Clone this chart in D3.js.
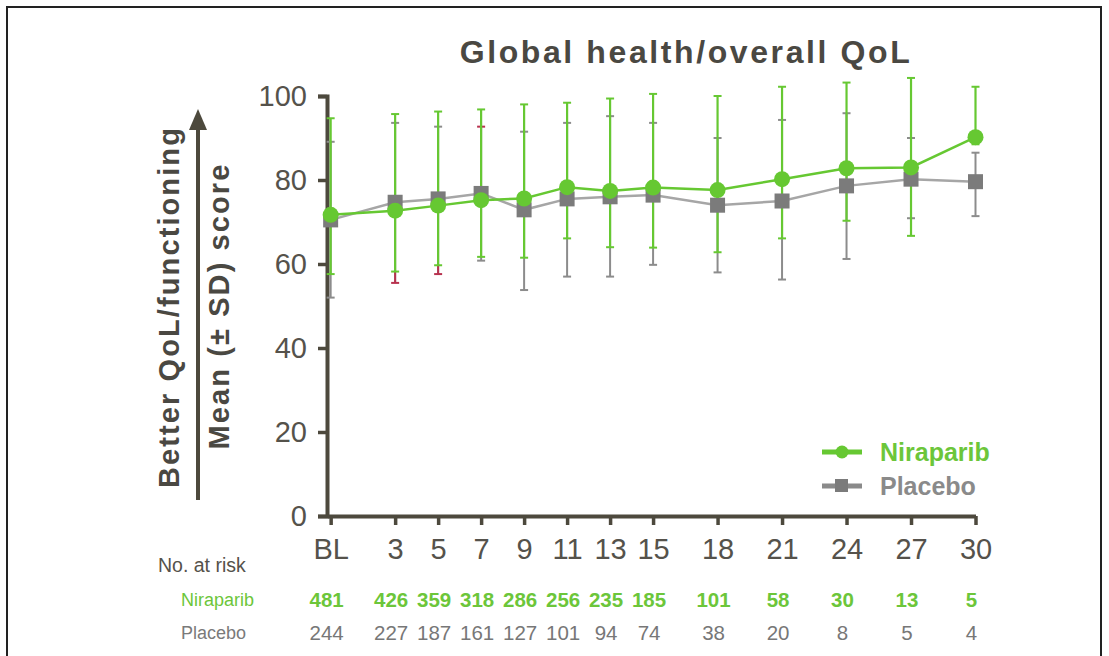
<!DOCTYPE html>
<html>
<head>
<meta charset="utf-8">
<script src="https://cdn.jsdelivr.net/npm/d3@7"></script>
<style>
  html, body { margin: 0; padding: 0; background: #fff; }
  svg { display: block; font-family: "Liberation Sans", Arial, sans-serif; }
</style>
</head>
<body>
<svg id="chart" width="1109" height="656"></svg>
<script>
// Visit months (BL = baseline) and their axis labels
const months = [0, 3, 5, 7, 9, 11, 13, 15, 18, 21, 24, 27, 30];
const monthLabels = ["BL", "3", "5", "7", "9", "11", "13", "15", "18", "21", "24", "27", "30"];

// Niraparib: mean score and the ends of the ± SD bars
const niraMean  = [71.7, 72.7, 73.9, 75.2, 75.6, 78.3, 77.4, 78.2, 77.6, 80.2, 82.8, 83.0, 90.2];
const niraUpper = [94.7, 95.7, 96.3, 96.8, 98.0, 98.4, 99.4, 100.5, 100.0, 102.2, 103.2, 104.3, 102.2];
const niraLower = [57.6, 58.2, 59.7, 61.7, 61.5, 66.1, 64.0, 63.9, 62.8, 66.1, 70.3, 66.7, 88.5];

// Placebo: mean score and the ends of the ± SD bars
const placMean  = [70.5, 74.7, 75.5, 76.8, 72.9, 75.5, 76.0, 76.4, 74.0, 75.0, 78.6, 80.2, 79.6];
const placUpper = [89.1, 93.6, 92.7, 92.7, 91.5, 93.6, 95.2, 93.6, 90.0, 94.3, 95.9, 90.0, 86.5];
const placLower = [52.0, 55.5, 57.6, 60.8, 53.8, 57.0, 57.0, 59.8, 58.0, 56.3, 61.2, 70.9, 71.4];

// Patients at risk per visit
const niraRisk = [481, 426, 359, 318, 286, 256, 235, 185, 101, 58, 30, 13, 5];
const placRisk = [244, 227, 187, 161, 127, 101, 94, 74, 38, 20, 8, 5, 4];

const yTicks = [0, 20, 40, 60, 80, 100];

// ---- styling ----
const GREEN = "#66c832";
const GREEN_TXT = "#6cc63a";
const GREY_MARK = "#7b7b7b";
const GREY_LINE = "#a6a6a6";
const GREY_BAR = "#8c8c8c";
const AXIS = "#4d493d";
const TEXT = "#55524b";
const ACCENT = "#b8324f";

const svg = d3.select("#chart");

// outer frame
svg.append("rect")
  .attr("x", 7).attr("y", 7).attr("width", 1094).attr("height", 660)
  .attr("fill", "none").attr("stroke", "#222").attr("stroke-width", 2);

const x = d3.scaleLinear().domain([-0.17, 30]).range([327, 975.5]);
const y = d3.scaleLinear().domain([0, 100]).range([516, 96]);

// title
svg.append("text")
  .attr("x", 686).attr("y", 63)
  .attr("text-anchor", "middle")
  .attr("font-size", 32).attr("font-weight", "bold")
  .attr("letter-spacing", 2.6)
  .attr("fill", "#4a4842")
  .text("Global health/overall QoL");

// y axis
const yAxis = svg.append("g")
  .attr("transform", `translate(${x.range()[0]},0)`)
  .call(d3.axisLeft(y).tickValues(yTicks).tickSize(9).tickPadding(11));
yAxis.select(".domain").attr("stroke", AXIS).attr("stroke-width", 4);
yAxis.selectAll(".tick line").attr("stroke", AXIS).attr("stroke-width", 3.5);
yAxis.selectAll(".tick text")
  .attr("font-size", 29).attr("fill", TEXT)
  .attr("font-family", "Liberation Sans, Arial, sans-serif");

// x axis
const xAxis = svg.append("g")
  .attr("transform", `translate(0,${y(0)})`)
  .call(d3.axisBottom(x).tickValues(months)
    .tickFormat((d, i) => monthLabels[i])
    .tickSize(9).tickSizeOuter(0).tickPadding(13));
xAxis.select(".domain").attr("stroke", AXIS).attr("stroke-width", 4);
xAxis.selectAll(".tick line").attr("stroke", AXIS).attr("stroke-width", 3.5);
xAxis.selectAll(".tick text")
  .attr("font-size", 29).attr("fill", TEXT)
  .attr("font-family", "Liberation Sans, Arial, sans-serif");

// y axis title with upward arrow
const yTitle = svg.append("g");
yTitle.append("text")
  .attr("transform", "translate(179,307) rotate(-90)")
  .attr("text-anchor", "middle")
  .attr("font-size", 29).attr("font-weight", "bold").attr("letter-spacing", 2.1)
  .attr("fill", "#4a4842")
  .text("Better QoL/functioning");
yTitle.append("text")
  .attr("transform", "translate(229,306) rotate(-90)")
  .attr("text-anchor", "middle")
  .attr("font-size", 29).attr("font-weight", "bold").attr("letter-spacing", 2.1)
  .attr("fill", "#4a4842")
  .text("Mean (± SD) score");
yTitle.append("line")
  .attr("x1", 198).attr("x2", 198).attr("y1", 500).attr("y2", 126)
  .attr("stroke", AXIS).attr("stroke-width", 4);
yTitle.append("path")
  .attr("d", "M198,109 L189,130 L207,130 Z")
  .attr("fill", AXIS);

// error bars
const cap = 4;
function drawBars(g, mean, upper, lower, color, width, accent) {
  months.forEach((m, i) => {
    const cx = x(m);
    const segs = [
      { y1: y(mean[i]), y2: y(upper[i]), side: "up" },
      { y1: y(mean[i]), y2: y(lower[i]), side: "low" }
    ];
    segs.forEach(s => {
      g.append("line")
        .attr("x1", cx).attr("x2", cx).attr("y1", s.y1).attr("y2", s.y2)
        .attr("stroke", color).attr("stroke-width", width);
      const capColor = accent && accent.has(i + s.side) ? ACCENT : color;
      g.append("line")
        .attr("x1", cx - cap).attr("x2", cx + cap).attr("y1", s.y2).attr("y2", s.y2)
        .attr("stroke", capColor).attr("stroke-width", 2);
    });
  });
}
const bars = svg.append("g");
// a few placebo whisker ends are printed in a crimson accent
const placeboAccent = new Set(["1low", "2low", "3up"]);
drawBars(bars, placMean, placUpper, placLower, GREY_BAR, 2, placeboAccent);
// crimson tails of placebo whiskers visible below the niraparib caps
[1, 2].forEach(i => {
  bars.append("line")
    .attr("x1", x(months[i])).attr("x2", x(months[i]))
    .attr("y1", y(niraLower[i])).attr("y2", y(placLower[i]))
    .attr("stroke", ACCENT).attr("stroke-width", 2);
});
drawBars(bars, niraMean, niraUpper, niraLower, GREEN, 2.2, null);

// lines
const line = (vals) => d3.line().x((d, i) => x(months[i])).y(d => y(d))(vals);
svg.append("path").attr("d", line(placMean))
  .attr("fill", "none").attr("stroke", GREY_LINE).attr("stroke-width", 2.5);
svg.append("path").attr("d", line(niraMean))
  .attr("fill", "none").attr("stroke", GREEN).attr("stroke-width", 2.5);

// markers
const sq = 15;
svg.append("g").selectAll("rect").data(placMean).join("rect")
  .attr("x", (d, i) => x(months[i]) - sq / 2)
  .attr("y", d => y(d) - sq / 2)
  .attr("width", sq).attr("height", sq)
  .attr("fill", GREY_MARK);
svg.append("g").selectAll("circle").data(niraMean).join("circle")
  .attr("cx", (d, i) => x(months[i]))
  .attr("cy", d => y(d))
  .attr("r", 8)
  .attr("fill", GREEN);

// legend
const legend = svg.append("g");
legend.append("line").attr("x1", 822).attr("x2", 862).attr("y1", 452).attr("y2", 452)
  .attr("stroke", GREEN).attr("stroke-width", 5);
legend.append("circle").attr("cx", 842).attr("cy", 452).attr("r", 6.5).attr("fill", GREEN);
legend.append("text").attr("x", 880).attr("y", 461)
  .attr("font-size", 25).attr("font-weight", "bold").attr("fill", GREEN_TXT)
  .text("Niraparib");
legend.append("line").attr("x1", 822).attr("x2", 862).attr("y1", 486).attr("y2", 486)
  .attr("stroke", "#8a8a8a").attr("stroke-width", 5);
legend.append("rect").attr("x", 835).attr("y", 479).attr("width", 13).attr("height", 13)
  .attr("fill", GREY_MARK);
legend.append("text").attr("x", 880).attr("y", 495)
  .attr("font-size", 25).attr("font-weight", "bold").attr("fill", "#8a8a8a")
  .text("Placebo");

// number at risk table
const risk = svg.append("g");
risk.append("text").attr("x", 158).attr("y", 572).attr("font-size", 19.5)
  .attr("fill", TEXT).text("No. at risk");
risk.append("text").attr("x", 181).attr("y", 606).attr("font-size", 18)
  .attr("fill", GREEN_TXT).text("Niraparib");
risk.append("text").attr("x", 181).attr("y", 639).attr("font-size", 18)
  .attr("fill", "#7a7a7a").text("Placebo");
risk.append("g").selectAll("text").data(niraRisk).join("text")
  .attr("x", (d, i) => x(months[i]) - 4).attr("y", 607)
  .attr("text-anchor", "middle").attr("font-size", 20.5)
  .attr("fill", GREEN_TXT).attr("font-weight", "bold")
  .text(d => d);
risk.append("g").selectAll("text").data(placRisk).join("text")
  .attr("x", (d, i) => x(months[i]) - 4).attr("y", 640)
  .attr("text-anchor", "middle").attr("font-size", 20.5).attr("fill", "#777")
  .text(d => d);
</script>
</body>
</html>
